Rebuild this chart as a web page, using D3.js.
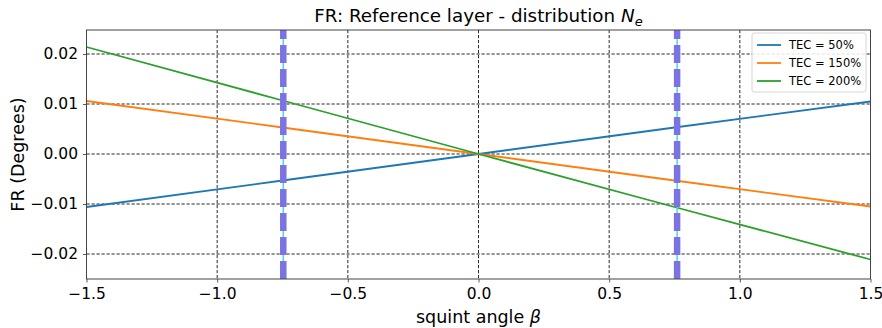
<!DOCTYPE html>
<html>
<head>
<meta charset="utf-8">
<script src="https://cdn.jsdelivr.net/npm/d3@7"></script>
<style>
  body { margin: 0; background: #fff; }
  text { font-family: "DejaVu Sans", sans-serif; fill: #000; }
</style>
</head>
<body>
<script>
// data
var beta = [-1.5, -0.75, 0, 0.75, 1.5];
var tec50 = [-0.0106, -0.0053, 0, 0.0053, 0.0105];
var tec150 = [0.0106, 0.0053, 0, -0.0053, -0.0105];
var tec200 = [0.0214, 0.0107, 0, -0.0106, -0.0211];
var seriesNames = ['TEC = 50%', 'TEC = 150%', 'TEC = 200%'];
var seriesColors = ['#1f77b4', '#ff7f0e', '#2ca02c'];
var markers = [-0.747, 0.76];
var xTicks = [-1.5, -1.0, -0.5, 0.0, 0.5, 1.0, 1.5];
var yTicks = [-0.02, -0.01, 0.0, 0.01, 0.02];

var outerWidth = 882,
    outerHeight = 328,
    margin = {top: 30, right: 11.5, bottom: 49, left: 86.5},
    width = outerWidth - margin.left - margin.right,
    height = outerHeight - margin.top - margin.bottom;

var svg = d3.select('body').append('svg')
    .attr('width', outerWidth)
    .attr('height', outerHeight);

var x = d3.scaleLinear().domain([-1.5, 1.5]).range([0, width]);
var y = d3.scaleLinear().domain([-0.025, 0.0248]).range([height, 0]);

var g = svg.append('g')
    .attr('transform', 'translate(' + margin.left + ',' + margin.top + ')');

g.append('defs').append('clipPath').attr('id', 'clip')
  .append('rect').attr('width', width).attr('height', height);

// grid
g.selectAll('.gx').data(xTicks.slice(1, -1)).enter().append('line')
    .attr('x1', d => x(d)).attr('x2', d => x(d))
    .attr('y1', 0).attr('y2', height)
    .attr('stroke', '#111').attr('stroke-width', 0.9)
    .attr('stroke-dasharray', '3.2,1.8');
g.selectAll('.gy').data(yTicks).enter().append('line')
    .attr('y1', d => y(d)).attr('y2', d => y(d))
    .attr('x1', 0).attr('x2', width)
    .attr('stroke', '#111').attr('stroke-width', 0.9)
    .attr('stroke-dasharray', '3.2,1.8');

var line = d3.line()
    .x((d, i) => x(beta[i]))
    .y(d => y(d));

var plot = g.append('g').attr('clip-path', 'url(#clip)');

[tec50, tec150, tec200].forEach(function(s, k) {
  plot.append('path')
      .datum(s)
      .attr('d', line)
      .attr('fill', 'none')
      .attr('stroke', seriesColors[k])
      .attr('stroke-width', 1.8);
});

// marker lines
markers.forEach(function(m) {
  plot.append('line')
      .attr('x1', x(m)).attr('x2', x(m))
      .attr('y1', height).attr('y2', 0)
      .attr('stroke', '#40e0d0').attr('stroke-width', 1.5);
  plot.append('line')
      .attr('x1', x(m)).attr('x2', x(m))
      .attr('y1', height).attr('y2', 0)
      .attr('stroke', '#7b72e4').attr('stroke-width', 6.5)
      .attr('stroke-dasharray', '18,6');
});

// axes
var fmtX = d => d3.format('.1f')(d).replace('-', '\u2212');
var fmtY = d => d3.format('.2f')(d).replace('-', '\u2212');

var xAxis = g.append('g')
    .attr('transform', 'translate(0,' + height + ')')
    .call(d3.axisBottom(x).tickValues(xTicks).tickFormat(fmtX).tickSizeOuter(0).tickSize(3.5).tickPadding(5));
var yAxis = g.append('g')
    .call(d3.axisLeft(y).tickValues(yTicks).tickFormat(fmtY).tickSizeOuter(0).tickSize(3.5).tickPadding(5));

[xAxis, yAxis].forEach(function(a) {
  a.select('.domain').remove();
  a.selectAll('line').attr('stroke', '#333').attr('stroke-width', 0.8);
  a.selectAll('text').style('font-family', '"DejaVu Sans", sans-serif').style('font-size', '15.5px').attr('fill', '#000');
});

g.append('rect')
    .attr('width', width).attr('height', height)
    .attr('fill', 'none').attr('stroke', '#444').attr('stroke-width', 1);

// title
var title = svg.append('text')
    .attr('x', margin.left + width / 2).attr('y', 22)
    .attr('text-anchor', 'middle')
    .style('font-size', '18.3px');
title.append('tspan').text('FR: Reference layer - distribution ');
title.append('tspan').style('font-style', 'italic').text('N');
title.append('tspan').style('font-style', 'italic').style('font-size', '13px').attr('dy', 3.5).text('e');

// axis labels
var xl = svg.append('text')
    .attr('x', margin.left + width / 2).attr('y', 323)
    .attr('text-anchor', 'middle')
    .style('font-size', '17.5px');
xl.append('tspan').text('squint angle ');
xl.append('tspan').style('font-style', 'italic').text('\u03b2');

svg.append('text')
    .attr('transform', 'translate(24,' + (margin.top + height / 2) + ') rotate(-90)')
    .attr('text-anchor', 'middle')
    .style('font-size', '17.5px')
    .text('FR (Degrees)');

// legend
var lg = svg.append('g').attr('transform', 'translate(752,33)');
lg.append('rect')
    .attr('width', 114).attr('height', 59).attr('rx', 2)
    .attr('fill', '#fff').attr('fill-opacity', 0.85)
    .attr('stroke', '#ccc').attr('stroke-width', 0.8);
seriesNames.forEach(function(n, i) {
  var yy = 12 + i * 18;
  lg.append('line')
      .attr('x1', 5).attr('x2', 29).attr('y1', yy).attr('y2', yy)
      .attr('stroke', seriesColors[i]).attr('stroke-width', 1.8);
  lg.append('text')
      .attr('x', 37).attr('y', yy + 4)
      .style('font-size', '11.5px')
      .text(n);
});
</script>
</body>
</html>
